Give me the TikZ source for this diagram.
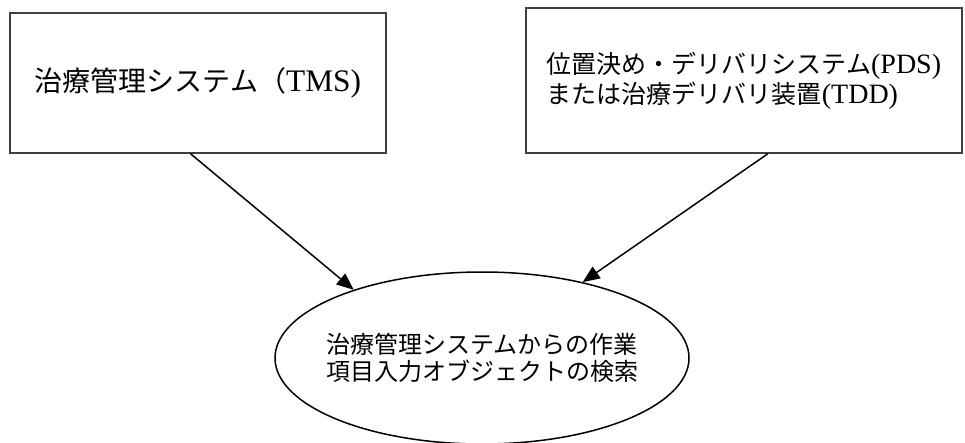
\documentclass[tikz,border=0pt]{standalone}
\usepackage{fontspec}
\setmainfont[Scale=1.12]{Liberation Serif}
\newfontfamily\jp{Noto Sans CJK JP}
\usetikzlibrary{arrows.meta,shapes.geometric}

\begin{document}
\begin{tikzpicture}[x=1pt,y=-1pt]
    \tikzstyle{every node}+=[inner sep=0pt]
    \tikzstyle{sysbox}=[draw=black!75, line width=1.5pt, rectangle]
    \tikzstyle{taskoval}=[draw=black, line width=1.5pt, ellipse, inner xsep=-12pt]
    \tikzstyle{flow}=[draw=black, line width=1.5pt, -{Triangle[length=17pt,width=14pt]}]
    \useasboundingbox (0,0) rectangle (965,443);
    % source systems
    \node [sysbox, minimum width=376pt, minimum height=140pt, font=\fontsize{28}{34}\selectfont] (tms) at (198,83)
        {{\jp 治療管理システム（}TMS)};
    \node [sysbox, minimum width=436pt, minimum height=145pt, align=left, font=\fontsize{25}{30}\selectfont] (pds) at (744,80.5)
        {{\jp 位置決め・デリバリシステム}(PDS)\\
         {\jp または治療デリバリ装置}(TDD)};
    % query
    \node [taskoval, minimum width=414pt, minimum height=172pt, align=center, font=\fontsize{24}{27}\selectfont\jp] (query) at (482,358)
        {治療管理システムからの作業\\ 項目入力オブジェクトの検索};
    \draw [flow] (tms.-96.5) -- (query.152.4);
    \draw [flow] (pds.-72.4) -- (query.37.2);
\end{tikzpicture}
\end{document}
